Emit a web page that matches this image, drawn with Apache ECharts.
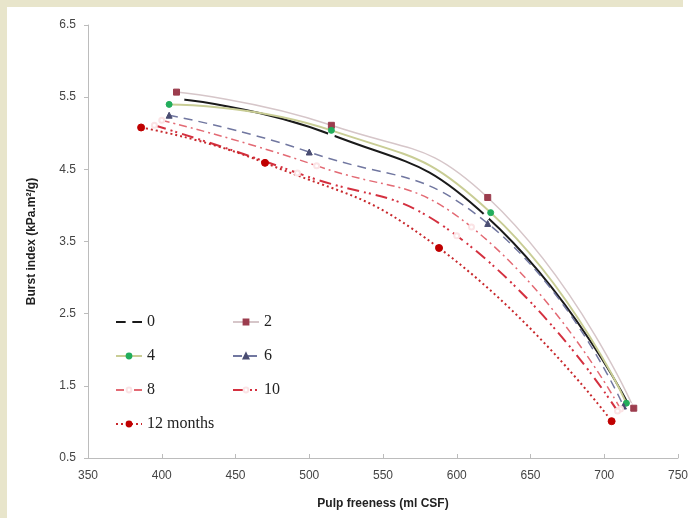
<!DOCTYPE html>
<html>
<head>
<meta charset="utf-8">
<script src="https://cdn.jsdelivr.net/npm/echarts@6/dist/echarts.min.js"></script>
<style>
  html, body { margin: 0; padding: 0; background: #fff; }
  #main { width: 694px; height: 518px; }
</style>
</head>
<body>
<div id="main"></div>
<script>
// 贮存期（月）
var months = ['0', '2', '4', '6', '8', '10', '12 months'];

// 打浆度 (ml CSF) 与 耐破指数 (kPa.m2/g)
var freeness0 = [413, 515, 620, 717];
var burst0 = [5.47, 4.98, 3.85, 1.22];
var freeness2 = [410, 515, 621, 720];
var burst2 = [5.57, 5.11, 4.11, 1.19];
var freeness4 = [405, 515, 623, 715];
var burst4 = [5.40, 5.04, 3.90, 1.26];
var freeness6 = [405, 500, 621, 713];
var burst6 = [5.25, 4.74, 3.75, 1.22];
var freeness8 = [400, 505, 610, 711];
var burst8 = [5.18, 4.55, 3.70, 1.18];
var freeness10 = [395, 492, 600, 709];
var burst10 = [5.11, 4.45, 3.58, 1.15];
var freeness12 = [386, 470, 588, 705];
var burst12 = [5.08, 4.59, 3.41, 1.01];

var yTicks = [0.5, 6.5, 1];   // min, max, interval
var xTicks = [350, 750, 50];

function pairs(xs, ys) {
  return xs.map(function (x, i) { return [x, ys[i]]; });
}

var chart = echarts.init(document.getElementById('main'), null, { renderer: 'canvas' });

function lineSeries(name, data, lineColor, lineType, width, symbol, symbolSize, markColor, markBorder) {
  return {
    name: name,
    type: 'line',
    data: data,
    smooth: 0.5,
    symbol: symbol,
    symbolSize: symbolSize,
    lineStyle: { color: lineColor, type: lineType, width: width },
    itemStyle: { color: markColor, borderColor: markBorder, borderWidth: 1 }
  };
}

var axisFont = 'Liberation Sans, Arial, sans-serif';
var legendText = { fontFamily: 'Liberation Serif, Times New Roman, serif', fontSize: 16, color: '#222' };

var option = {
  backgroundColor: '#fff',
  animation: false,
  graphic: [
    { type: 'rect', shape: { x: 0, y: 0, width: 7, height: 518 }, style: { fill: '#e8e5cb' } },
    { type: 'rect', shape: { x: 0, y: 0, width: 683, height: 7 }, style: { fill: '#e8e5cb' } }
  ],
  grid: { left: 88, right: 16, top: 25, bottom: 60 },
  legend: [{
    data: ['0', '4', '8', '12 months'],
    orient: 'vertical',
    left: 110,
    top: 309,
    itemGap: 18,
    itemWidth: 26,
    itemHeight: 6,
    textStyle: legendText
  }, {
    data: ['2', '6', '10'],
    orient: 'vertical',
    left: 227,
    top: 309,
    itemGap: 18,
    itemWidth: 26,
    itemHeight: 6,
    textStyle: legendText
  }],
  xAxis: {
    type: 'value',
    min: xTicks[0],
    max: xTicks[1],
    interval: xTicks[2],
    name: 'Pulp freeness (ml CSF)',
    nameLocation: 'middle',
    nameGap: 40,
    nameTextStyle: { fontFamily: axisFont, fontWeight: 'bold', fontSize: 12, color: '#222' },
    axisLine: { lineStyle: { color: '#bcbcbc' } },
    axisTick: { inside: true, length: 4, lineStyle: { color: '#bcbcbc' } },
    axisLabel: { margin: 12, fontFamily: axisFont, fontSize: 12, color: '#444' },
    splitLine: { show: false }
  },
  yAxis: {
    type: 'value',
    min: yTicks[0],
    max: yTicks[1],
    interval: yTicks[2],
    name: 'Burst index (kPa.m²/g)',
    nameLocation: 'middle',
    nameGap: 50,
    nameTextStyle: { fontFamily: axisFont, fontWeight: 'bold', fontSize: 12, color: '#222' },
    axisLine: { show: true, lineStyle: { color: '#bcbcbc' } },
    axisTick: { show: true, length: 4, lineStyle: { color: '#bcbcbc' } },
    axisLabel: {
      margin: 12, fontFamily: axisFont, fontSize: 12, color: '#444',
      formatter: function (v) { return v.toFixed(1); }
    },
    splitLine: { show: false }
  },
  series: [
    lineSeries(months[0], pairs(freeness0, burst0), '#1a1a1a', 'solid', 2, 'emptyCircle', 5, '#ffffff', '#777'),
    lineSeries(months[1], pairs(freeness2, burst2), '#d6c6c9', 'solid', 1.5, 'rect', 6, '#9c3d4e', '#9c3d4e'),
    lineSeries(months[2], pairs(freeness4, burst4), '#c9cd95', 'solid', 2, 'circle', 6, '#22ad5c', '#22ad5c'),
    lineSeries(months[3], pairs(freeness6, burst6), '#7177a0', [9, 6], 1.5, 'triangle', 6, '#4a4d72', '#4a4d72'),
    lineSeries(months[4], pairs(freeness8, burst8), '#e36a74', [8, 4, 2, 4], 1.5, 'emptyCircle', 5, '#fbe3e5', '#e59aa1'),
    lineSeries(months[5], pairs(freeness10, burst10), '#d4303f', [12, 5, 2, 3, 2, 5], 2, 'emptyCircle', 5, '#fbe3e5', '#e08a93'),
    lineSeries(months[6], pairs(freeness12, burst12), '#c8282c', [2, 3], 2, 'circle', 7, '#c00000', '#c00000')
  ]
};

chart.setOption(option);
</script>
</body>
</html>
